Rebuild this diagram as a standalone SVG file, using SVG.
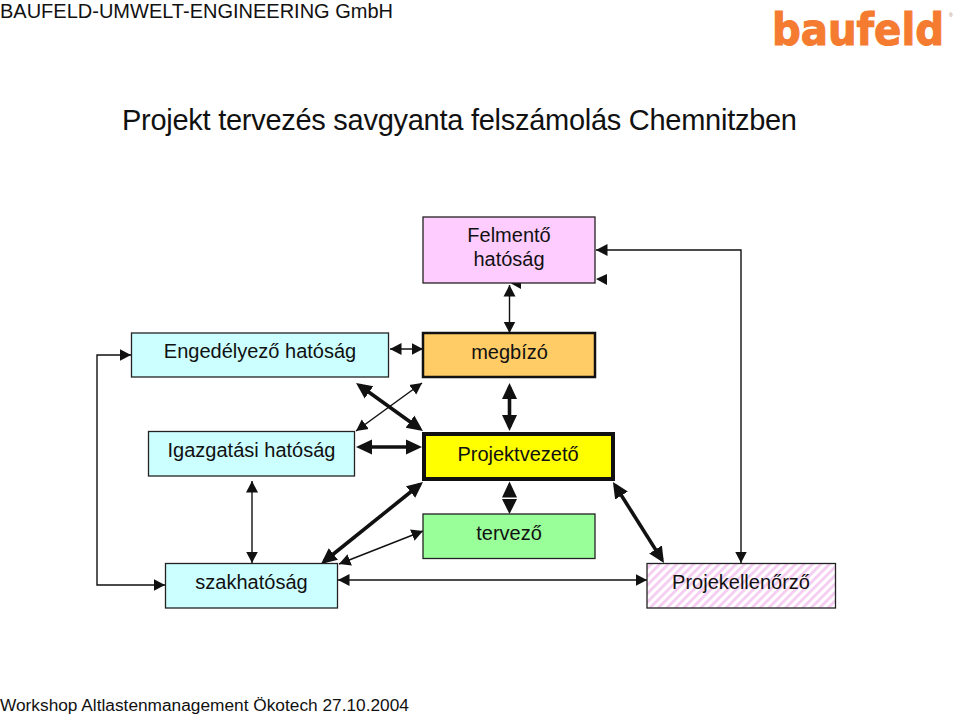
<svg xmlns="http://www.w3.org/2000/svg" width="960" height="716" viewBox="0 0 960 716">
<style>
text{font-family:"Liberation Sans",Arial,sans-serif;fill:#111}
.n{font-size:20px;text-anchor:middle}
.b{stroke:#222;stroke-width:1.3}
.c{fill:none;stroke:#111}
.t1{stroke-width:1.4;marker-start:url(#s);marker-end:url(#s)}
.t3{stroke-width:3.6;marker-start:url(#l);marker-end:url(#l)}
</style>
<defs>
<marker id="s" markerUnits="userSpaceOnUse" markerWidth="13" markerHeight="13" refX="11.500" refY="6.500" orient="auto-start-reverse"><path d="M0 0.5L11.500 6.500L0 12.500Z" fill="#111"/></marker>
<marker id="l" markerUnits="userSpaceOnUse" markerWidth="17" markerHeight="17" refX="12" refY="8" orient="auto-start-reverse"><path d="M0 0.5L16 8L0 15.5Z" fill="#111"/></marker>
<pattern id="h" patternUnits="userSpaceOnUse" width="6" height="6" patternTransform="rotate(-45)"><rect width="6" height="6" fill="#fff"/><rect width="6" height="2.8" fill="#f5ccf2"/></pattern>
</defs>
<g id="header">
<text x="0" y="18" font-size="20">BAUFELD-UMWELT-ENGINEERING GmbH</text>
<text x="122" y="130" font-size="29" textLength="675">Projekt tervezés savgyanta felszámolás Chemnitzben</text>
<text x="0" y="711" font-size="17.300">Workshop Altlastenmanagement Ökotech 27.10.2004</text>
<text transform="translate(772 45) scale(1 1.12)" font-size="39" font-weight="bold" style="font-family:'DejaVu Sans',sans-serif;fill:#f47b30;stroke:#f47b30;stroke-width:1" textLength="172" lengthAdjust="spacingAndGlyphs">baufeld</text>
<text x="949" y="17" font-size="5" style="fill:#b08060">®</text>
</g>
<g id="connectors">
<path class="c t1" d="M741 563V250H596"/>
<path class="c t1" d="M131 355H97V585H165"/>
<path class="c t1" d="M509.5 285V333"/>
<path class="c t1" d="M390 349H423"/>
<path class="c t1" d="M422 383L356 431"/>
<path class="c t3" d="M359.300 385.300L419.700 428.700"/>
<path class="c t3" d="M509.500 387V427"/>
<path class="c t3" d="M360 447H418"/>
<path class="c t3" d="M419.900 484.500L324.100 561.500"/>
<path class="c t3" d="M615.100 485.400L661.900 559.600"/>
<path class="c t1" d="M423 531L339 564"/>
<path class="c t1" d="M252 481V563"/>
<path class="c t1" d="M338 580H647"/>
<path d="M509.500 481.500L517 497.500H502Z M509.500 514L517 499H502Z" fill="#111"/>
<path d="M596 279L607 274V285Z M511 283.500L521 278V289Z" fill="#111"/>
</g>
<g id="felmento"><rect class="b" x="423" y="217" width="172" height="66" fill="#ffccff"/><text class="n" x="509" y="242">Felmentő</text><text class="n" x="509" y="266">hatóság</text></g>
<g id="engedelyezo"><rect class="b" x="131.500" y="333" width="257" height="44" fill="#ccffff"/><text class="n" x="260" y="358">Engedélyező hatóság</text></g>
<g id="megbizo"><rect x="423" y="333" width="172" height="44" fill="#ffcc66" stroke="#111" stroke-width="2.500"/><text class="n" x="509.500" y="359">megbízó</text></g>
<g id="igazgatasi"><rect class="b" x="148.500" y="431.500" width="206" height="44.500" fill="#ccffff"/><text class="n" x="251.500" y="457">Igazgatási hatóság</text></g>
<g id="projektvezeto"><rect x="424" y="434" width="189" height="45" fill="#ffff00" stroke="#111" stroke-width="4"/><text class="n" x="518" y="461">Projektvezető</text></g>
<g id="tervezo"><rect class="b" x="423" y="514" width="172" height="44.500" fill="#99ff99"/><text class="n" x="509" y="540">tervező</text></g>
<g id="szakhatosag"><rect class="b" x="165.500" y="563.500" width="172" height="44.500" fill="#ccffff"/><text class="n" x="251.500" y="589">szakhatóság</text></g>
<g id="projekellenorzo"><rect class="b" x="647" y="563.500" width="188.500" height="44.500" fill="url(#h)"/><text class="n" x="741" y="589">Projekellenőrző</text></g>
</svg>
